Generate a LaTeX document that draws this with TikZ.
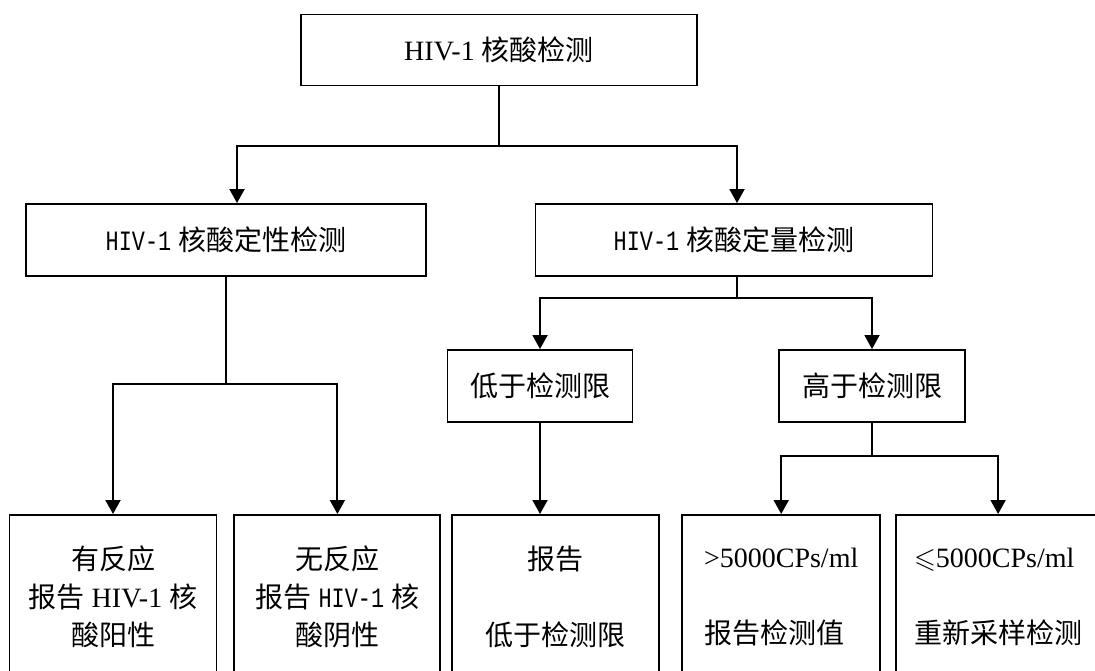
\documentclass[tikz,border=0pt]{standalone}
\usepackage{fontspec}
\usepackage{amssymb}
\setmainfont{Liberation Serif}
\newfontfamily\cjk{Noto Sans CJK SC}
\newfontfamily\hmono{Liberation Mono}[FakeStretch=0.78]
\newcommand{\zh}[1]{{\cjk #1}}
\usetikzlibrary{positioning, arrows.meta}
\tikzset{
box/.style={draw, line width=1.9pt, font=\fontsize{28}{38}\selectfont, align=center, inner sep=0pt}, % every box in the chart
mid/.style={box, minimum height=72pt}, % the boxes in the middle rows
leaf/.style={box, anchor=north, minimum height=164pt}, % the results in the bottom row
wire/.style={line width=1.9pt},
arr/.style={wire, -{Triangle[width=15pt, length=14pt]}}, % filled arrow heads
}

\begin{document}
\begin{tikzpicture}[x=1pt, y=-1pt]
            \useasboundingbox (0,0) rectangle (1095,671);
            \clip (0,0) rectangle (1095,671);
            \node[box, minimum width=396pt, minimum height=71pt] (test) at (499,50) {HIV-1 \zh{核酸检测}};
            \node[mid, minimum width=400pt] (quali) at (226,240) {{\hmono HIV-1} \zh{核酸定性检测}};
            \node[mid, minimum width=397pt] (quant) at (734,240) {{\hmono HIV-1} \zh{核酸定量检测}};
            \node[mid, minimum width=185pt] (lowlim) at (540,386) {\zh{低于检测限}};
            \node[mid, minimum width=186pt] (highlim) at (872,386) {\zh{高于检测限}};
            \node[leaf, minimum width=207pt] (react) at (113,514) {\zh{有反应}\\\zh{报告} HIV-1 \zh{核}\\\zh{酸阳性}};
            \node[leaf, minimum width=206pt, right=16pt of react] (nonreact) {\zh{无反应}\\\zh{报告} {\hmono HIV-1} \zh{核}\\\zh{酸阴性}};
            \node[leaf, minimum width=207pt, right=10pt of nonreact] (report) {\zh{报告}\\[38pt]\zh{低于检测限}};
            \node[leaf, minimum width=198pt, right=21pt of report, align=left] (value) {>5000CPs/ml\\[38pt]\zh{报告检测值}};
            \node[leaf, minimum width=204pt, right=14pt of value, align=left] (resample) {$\leqslant$5000CPs/ml\\[38pt]\zh{重新采样检测}};
            \draw[arr] (test.south) -- ++(0,60) -| ([xshift=11pt]quali.north);
            \draw[arr] (test.south) -- ++(0,60) -| ([xshift=3pt]quant.north);
            \draw[arr] (quali.south) -- ++(0,107) -| (react.north);
            \draw[arr] (quali.south) -- ++(0,107) -| (nonreact.north);
            \draw[arr] ([xshift=3pt]quant.south) -- ++(0,21) -| (lowlim.north);
            \draw[arr] ([xshift=3pt]quant.south) -- ++(0,21) -| (highlim.north);
            \draw[arr] (lowlim.south) -- (lowlim.south |- report.north);
            \draw[arr] (highlim.south) -- ++(0,33) -| (value.north);
            \draw[arr] (highlim.south) -- ++(0,33) -| (resample.north);
        \end{tikzpicture}
\end{document}
